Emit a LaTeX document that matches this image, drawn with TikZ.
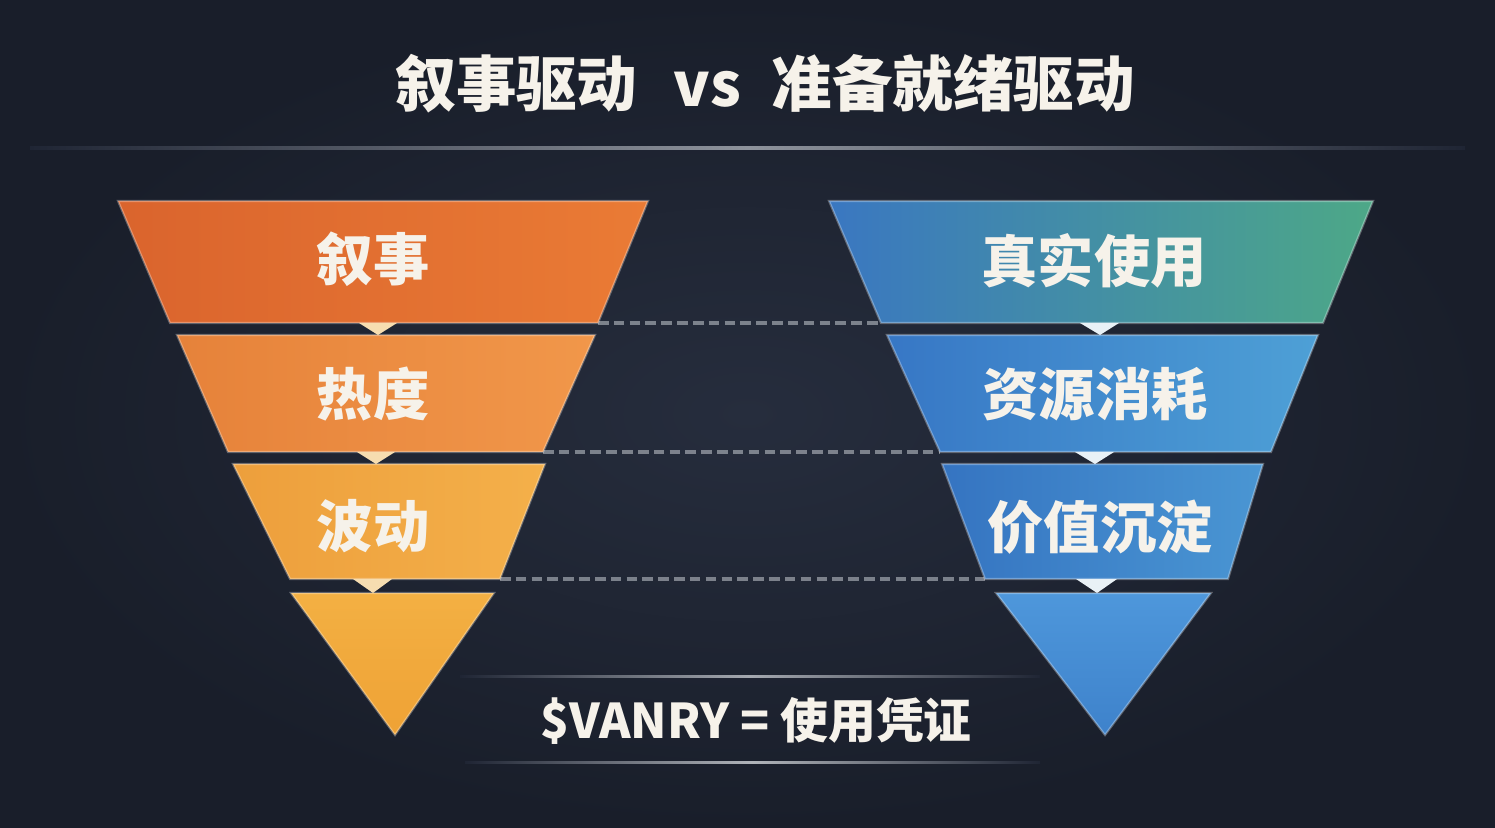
\documentclass[tikz,border=0pt]{standalone}
\usepackage{fontspec}
\setmainfont{Noto Sans CJK SC}
\usepackage{xcolor}
\usepackage{tikz}
\definecolor{bginner}{HTML}{262D3D}
\definecolor{bgouter}{HTML}{191E2A}
\definecolor{bgnavy}{HTML}{1F2534}
\definecolor{txtwhite}{HTML}{F6F2EA}
\definecolor{rulegray}{HTML}{8E939C}
\definecolor{dashgray}{HTML}{A3A8B0}
\definecolor{orA}{HTML}{DA642D}
\definecolor{orB}{HTML}{EA7B35}
\definecolor{orC}{HTML}{E6823A}
\definecolor{orD}{HTML}{F1974A}
\definecolor{orE}{HTML}{ED9F3C}
\definecolor{orF}{HTML}{F4B04A}
\definecolor{orG}{HTML}{F3B043}
\definecolor{orH}{HTML}{EFA235}
\definecolor{blA}{HTML}{3A77C1}
\definecolor{grB}{HTML}{4DA887}
\definecolor{blC}{HTML}{3777C5}
\definecolor{blD}{HTML}{4EA0D6}
\definecolor{blE}{HTML}{3574C1}
\definecolor{blF}{HTML}{4A96D3}
\definecolor{blG}{HTML}{4E97DB}
\definecolor{blH}{HTML}{3E82CB}
\definecolor{notchor}{HTML}{F6DDB0}
\definecolor{notchbl}{HTML}{E9F1F6}

\begin{document}
\begin{tikzpicture}[x=0.01cm, y=-0.01cm,
    seg/.style={draw=white, draw opacity=0.3, line width=0.6pt},
    lbl/.style={text=txtwhite, font=\bfseries\fontsize{16}{16}\selectfont},
    headline/.style={text=txtwhite, font=\bfseries\fontsize{17.2}{18}\selectfont},
    tokenline/.style={text=txtwhite, font=\bfseries\fontsize{13.6}{14}\selectfont},
    fade/.style={left color=bgnavy, right color=bgnavy, middle color=#1},
    dashline/.style={dashgray, line width=0.9pt, dash pattern=on 3pt off 1.5pt, draw opacity=0.7}]
  % 1. Background and frame
  \shade[inner color=bginner, outer color=bgouter] (0,0) rectangle (1495,828);
  \useasboundingbox (0,0) rectangle (1495,828);

  % 2. Title with its rule
  \node[headline] (title) at (765,84) {叙事驱动\hspace{0.6em}vs\hspace{0.5em}准备就绪驱动};
  \shade[fade=rulegray] (30,147) rectangle (1465,149.5);

  % 3. Corners that the level lines join
  \coordinate (L1br) at (598,323);  \coordinate (R1bl) at (881,323);
  \coordinate (L2br) at (543,452);  \coordinate (R2bl) at (940,452);
  \coordinate (L3br) at (500,579);  \coordinate (R3bl) at (985,579);
  \draw[dashline] (L1br) -- (R1bl);
  \draw[dashline] (L2br) -- (R2bl);
  \draw[dashline] (L3br) -- (R3bl);

  % 4. Left funnel (narrative)
  \shade[seg, left color=orA, right color=orB]
    (118,201) -- (648,201) -- (L1br) -- (170,323) -- cycle;
  \shade[seg, left color=orC, right color=orD]
    (177,335) -- (595,335) -- (L2br) -- (228,452) -- cycle;
  \shade[seg, left color=orE, right color=orF]
    (233,464) -- (545,464) -- (L3br) -- (290,579) -- cycle;
  \shade[seg, top color=orG, bottom color=orH]
    (291,593) -- (494,593) -- (395,735) -- cycle;
  \fill[notchor] (359,323) -- (397,323) -- (378,335) -- cycle;
  \fill[notchor] (357,452) -- (395,452) -- (376,464) -- cycle;
  \fill[notchor] (353,579) -- (392,579) -- (373,593) -- cycle;

  \node[lbl] (narr) at (373,259) {叙事};
  \node[lbl] (heat) at (373,394) {热度};
  \node[lbl] (vola) at (373,526) {波动};

  % 5. Right funnel (readiness)
  \shade[seg, left color=blA, right color=grB]
    (829,201) -- (1373,201) -- (1323,323) -- (R1bl) -- cycle;
  \shade[seg, left color=blC, right color=blD]
    (887,335) -- (1318,335) -- (1271,452) -- (R2bl) -- cycle;
  \shade[seg, left color=blE, right color=blF]
    (942,464) -- (1263,464) -- (1228,579) -- (R3bl) -- cycle;
  \shade[seg, top color=blG, bottom color=blH]
    (996,593) -- (1211,593) -- (1105,735) -- cycle;
  \fill[notchbl] (1080,323) -- (1119,323) -- (1100,335) -- cycle;
  \fill[notchbl] (1075,452) -- (1114,452) -- (1095,464) -- cycle;
  \fill[notchbl] (1076,579) -- (1117,579) -- (1097,593) -- cycle;

  \node[lbl] (real) at (1094,261) {真实使用};
  \node[lbl] (cons) at (1095,394) {资源消耗};
  \node[lbl] (dept) at (1100,527) {价值沉淀};

  % 6. Token line between two rules
  \shade[fade=rulegray!80] (460,675) rectangle (1040,677.5);
  \node[tokenline] (token) at (756,721) {\$VANRY = 使用凭证};
  \shade[fade=rulegray!70] (465,761) rectangle (1040,763.5);
\end{tikzpicture}
\end{document}
